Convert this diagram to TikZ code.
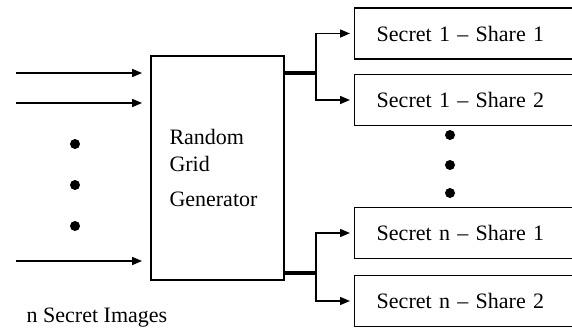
\documentclass[tikz,border=0pt]{standalone}
\usepackage{fontspec}
\setmainfont{Liberation Serif}
\usetikzlibrary{positioning}
\usetikzlibrary{arrows.meta}

\tikzset{
  sharebox/.style={draw, line width=1.1pt, anchor=west, text width=147pt, inner xsep=16.5pt,
    minimum height=38.25pt, align=left, font=\fontsize{16.5}{20}\selectfont},
  genbox/.style={draw, line width=1.1pt, minimum width=98.25pt, minimum height=168pt,
    text width=72pt, inner xsep=14pt, align=left, font=\fontsize{16.5}{20}\selectfont},
  bigdot/.style={circle, fill=black, inner sep=0pt, minimum size=7.5pt},
  arr/.style={line width=1.1pt, -{Triangle[length=7.5pt, width=6pt]}},
  bus/.style={line width=3pt}
}

\begin{document}
\begin{tikzpicture}[x=0.75pt, y=-0.75pt]
\useasboundingbox (0,0) rectangle (572,329);
\clip (0,0) rectangle (572,329);

% generator
\node[genbox] (gen) at (217.5,168) {Random\\Grid\\[6pt]Generator};

% shares
\node[sharebox] (sa1) at (354,33.5) {Secret 1 -- Share 1};
\node[sharebox] (sa2) at (354,100) {Secret 1 -- Share 2};
\node[sharebox] (sn1) at (354,233) {Secret n -- Share 1};
\node[sharebox] (sn2) at (354,301) {Secret n -- Share 2};

% inputs
\coordinate (in1) at (16,73);
\coordinate (in2) at (16,103);
\coordinate (in3) at (16,261);
\draw[arr, shorten >=6pt] (in1) -- (in1 -| gen.west);
\draw[arr, shorten >=6pt] (in2) -- (in2 -| gen.west);
\draw[arr, shorten >=6pt] (in3) -- (in3 -| gen.west);

\node[bigdot] (dl1) at (75,144) {};
\node[bigdot] (dl2) at (75,185) {};
\node[bigdot] (dl3) at (75,226) {};

\node[anchor=west, font=\fontsize{16.5}{20}\selectfont] (lbl) at (22,318) {n Secret Images};

% outputs
\coordinate (sp1) at (316,73);
\coordinate (sp2) at (316,273);
\draw[bus] (sp1 -| gen.east) -- (sp1);
\draw[bus] (sp2 -| gen.east) -- (sp2);
\draw[arr, shorten >=3pt] (sp1) |- (sa1.west);
\draw[arr, shorten >=3pt] (sp1) |- (sa2.west);
\draw[arr, shorten >=3pt] (sp2) |- (sn1.west);
\draw[arr, shorten >=3pt] (sp2) |- (sn2.west);

\node[bigdot] (dr1) at (450,135) {};
\node[bigdot] (dr2) at (450,165) {};
\node[bigdot] (dr3) at (450,193) {};

\end{tikzpicture}
\end{document}
